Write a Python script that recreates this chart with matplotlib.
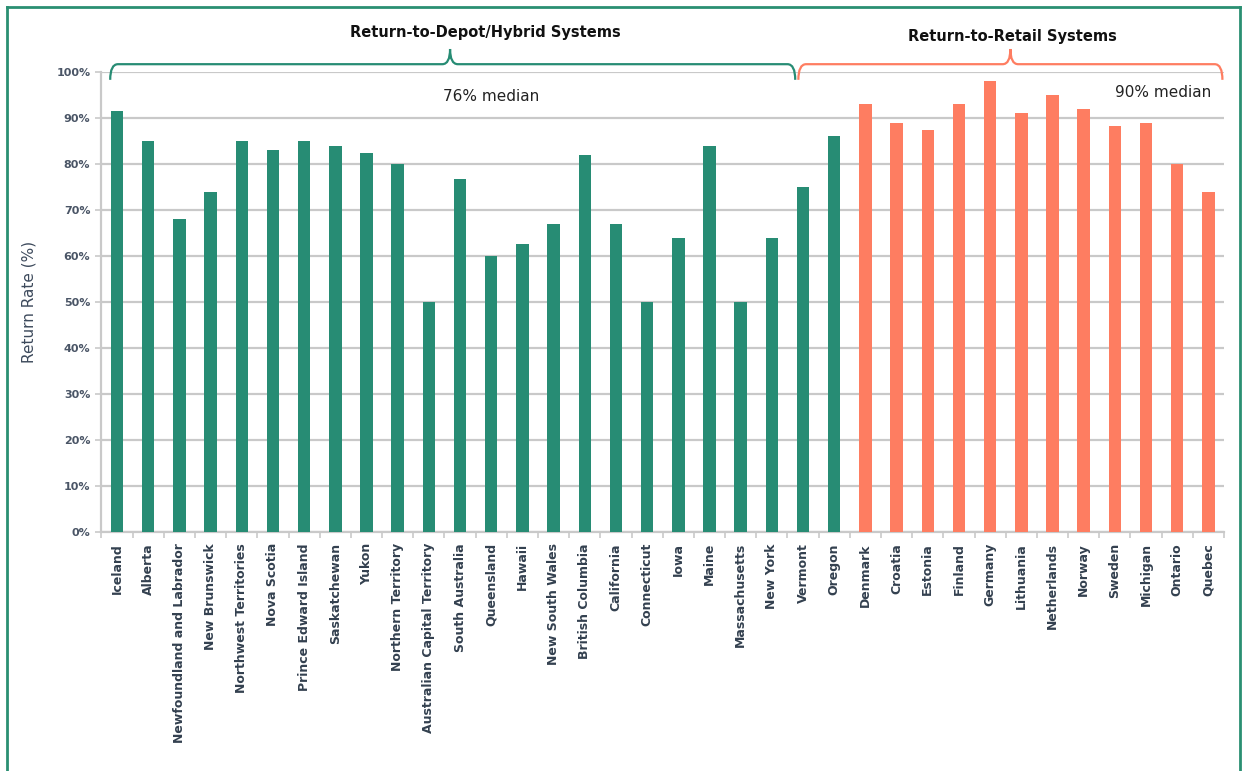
"""
Deposit return rates by system type
Generates out.png
"""

import numpy as np
import matplotlib
matplotlib.use("Agg")
import matplotlib.pyplot as plt
from matplotlib.path import Path
from matplotlib.patches import PathPatch
from matplotlib.lines import Line2D

GREEN  = "#278c74"
ORANGE = "#fe7d61"
FRAME  = "#2a8f72"
GRID   = "#c9c9c9"
TEXT   = "#33404f"

# ── data ────────────────────────────────────────────────────────────────────
depot_names = ["Iceland", "Alberta", "Newfoundland and Labrador", "New Brunswick",
               "Northwest Territories", "Nova Scotia", "Prince Edward Island",
               "Saskatchewan", "Yukon", "Northern Territory",
               "Australian Capital Territory", "South Australia", "Queensland",
               "Hawaii", "New South Wales", "British Columbia", "California",
               "Connecticut", "Iowa", "Maine", "Massachusetts", "New York",
               "Vermont", "Oregon"]
depot_rates = [91.5, 85, 68, 74, 85, 83, 85, 84, 82.5, 80,
               50, 76.7, 60, 62.7, 67, 82, 67,
               50, 64, 84, 50, 64, 75, 86]

retail_names = ["Denmark", "Croatia", "Estonia", "Finland", "Germany", "Lithuania",
                "Netherlands", "Norway", "Sweden", "Michigan", "Ontario", "Quebec"]
retail_rates = [93, 89, 87.3, 93, 98, 91, 95, 92, 88.2, 89, 80, 74]

names = depot_names + retail_names
rates = depot_rates + retail_rates
colors = [GREEN] * len(depot_names) + [ORANGE] * len(retail_names)

# ── figure ──────────────────────────────────────────────────────────────────
fig = plt.figure(figsize=(12.51, 7.71), dpi=100, facecolor="white")
ax = fig.add_axes([0.0811, 0.31, 0.8973, 0.5966])

x = np.arange(len(names))
ax.bar(x, rates, width=0.4, color=colors, zorder=3)

ax.set_xlim(-0.5, len(names) - 0.5)
ax.set_ylim(0, 100)
ax.set_yticks(np.arange(0, 101, 10))
ax.set_yticklabels([f"{v}%" for v in range(0, 101, 10)],
                   fontsize=8, color="#4a5566", fontweight="bold")
ax.yaxis.grid(True, color=GRID, lw=1.6, zorder=0)
ax.set_axisbelow(True)

ax.set_xticks(x)
ax.set_xticklabels(names, rotation=90, fontsize=9, fontweight="bold", color=TEXT)
ax.set_xticks(np.arange(-0.5, len(names)), minor=True)
ax.tick_params(axis="x", which="major", length=0, pad=8)
ax.tick_params(axis="x", which="minor", length=4, color=GRID, width=1.2)
ax.tick_params(axis="y", length=4, color=GRID, width=1.2, pad=4)

for s in ["top", "right"]:
    ax.spines[s].set_visible(False)
for s in ["left", "bottom"]:
    ax.spines[s].set_color(GRID)
    ax.spines[s].set_linewidth(1.6)

ax.set_ylabel("Return Rate (%)", fontsize=11, color="#3d4a5c", labelpad=14)


def bracket(x0, x1, xm, color):
    # curly-ish bracket above the bars, in data coordinates
    yb, yh, yp = 98.3, 101.7, 105.0
    r = 0.25
    verts = [(x0, yb), (x0, yh), (x0 + r, yh),
             (xm - r, yh), (xm, yh), (xm, yp),
             (xm, yh), (xm + r, yh),
             (x1 - r, yh), (x1, yh), (x1, yb)]
    codes = [Path.MOVETO, Path.CURVE3, Path.CURVE3,
             Path.LINETO, Path.CURVE3, Path.CURVE3,
             Path.CURVE3, Path.CURVE3,
             Path.LINETO, Path.CURVE3, Path.CURVE3]
    ax.add_patch(PathPatch(Path(verts, codes), fill=False, edgecolor=color,
                           lw=1.6, clip_on=False, zorder=5))


bracket(-0.22, 21.75, 10.68, GREEN)
bracket(21.85, 35.45, 28.65, ORANGE)

ax.text(11.8, 108.6, "Return-to-Depot/Hybrid Systems", ha="center", va="center",
        fontsize=10.5, fontweight="bold", color="#111111", clip_on=False)
ax.text(28.7, 107.8, "Return-to-Retail Systems", ha="center", va="center",
        fontsize=10.5, fontweight="bold", color="#111111", clip_on=False)

ax.text(12.0, 94.6, "76% median", ha="center", va="center",
        fontsize=11, color="#222222")
ax.text(33.55, 95.5, "90% median", ha="center", va="center",
        fontsize=11, color="#222222")

# outer frame
fx0, fx1, fy1 = 7 / 1251, 1240 / 1251, 1 - 7 / 771
for xs, ys in [([fx0, fx0], [0, fy1]), ([fx0, fx1], [fy1, fy1]), ([fx1, fx1], [0, fy1])]:
    fig.add_artist(Line2D(xs, ys, color=FRAME, lw=2, transform=fig.transFigure))

plt.savefig("out.png", dpi=100, facecolor="white")
plt.close()
print("out.png done")
